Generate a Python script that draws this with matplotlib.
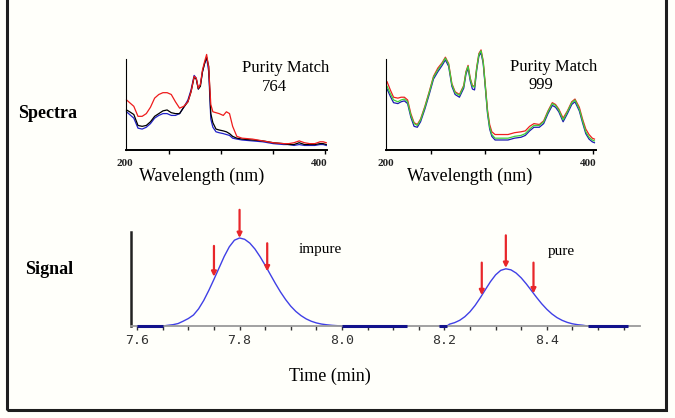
import matplotlib
matplotlib.use('Agg')
import matplotlib.pyplot as plt
from matplotlib.patches import Rectangle

# ---- spectra, left panel (impure peak, purity match 764) ----
wl_left = [209, 212, 216, 220, 224, 228, 232, 236, 240, 244, 248, 252, 256, 260,
           264, 268, 271, 274, 276, 278, 280, 282, 284, 286, 288, 290, 292, 295,
           298, 302, 305, 308, 311, 315, 320, 330, 340, 350, 360, 365, 370, 375,
           380, 385, 390, 395, 398, 401]
left_red = [.55, .52, .48, .37, .37, .40, .47, .57, .61, .63, .63, .61, .53, .46,
            .48, .53, .64, .81, .79, .68, .72, .88, .97, 1.05, .90, .50, .42, .41,
            .40, .38, .42, .40, .26, .15, .13, .12, .10, .08, .07, .07, .08, .10,
            .08, .07, .07, .09, .09, .08]
left_black = [.44, .42, .39, .27, .26, .27, .31, .37, .40, .43, .44, .41, .40, .40,
              .47, .53, .64, .80, .78, .67, .70, .86, .95, 1.02, .92, .40, .30, .23,
              .22, .21, .20, .18, .15, .13, .12, .11, .10, .08, .07, .06, .06, .08,
              .06, .06, .06, .07, .07, .06]
left_blue = [.42, .39, .35, .24, .23, .25, .29, .35, .38, .40, .40, .38, .38, .40,
             .47, .55, .66, .82, .79, .67, .72, .86, .95, 1.01, .86, .34, .25, .20,
             .19, .18, .17, .16, .13, .12, .11, .10, .09, .07, .06, .06, .05, .06,
             .05, .05, .05, .06, .06, .05]

# ---- spectra, right panel (pure peak, purity match 999) ----
wl_right = [209, 212, 215, 219, 222, 225, 228, 231, 234, 237, 240, 244, 248, 252,
            256, 260, 263, 266, 269, 272, 276, 280, 282, 284, 286, 288, 290, 292,
            294, 296, 298, 300, 302, 304, 306, 309, 315, 321, 327, 333, 337, 341,
            345, 350, 354, 358, 362, 365, 368, 372, 376, 380, 383, 387, 390, 393,
            396, 399, 401]
right_red = [.75, .66, .58, .57, .58, .58, .55, .40, .30, .28, .34, .48, .64, .81,
             .90, .96, 1.02, .95, .73, .64, .61, .71, .86, .93, .79, .71, .70, .91,
             1.06, 1.10, .98, .71, .44, .28, .20, .17, .17, .17, .19, .20, .21, .26,
             .29, .28, .32, .43, .52, .50, .45, .35, .43, .53, .56, .47, .34, .23,
             .17, .13, .12]
right_green = [.70, .62, .55, .53, .55, .56, .53, .38, .29, .27, .33, .47, .63, .80,
               .88, .95, 1.01, .94, .72, .63, .60, .70, .85, .92, .78, .70, .69, .90,
               1.05, 1.09, .97, .70, .42, .25, .17, .13, .13, .13, .15, .16, .18, .23,
               .27, .27, .31, .42, .51, .49, .44, .33, .42, .52, .55, .45, .32, .20,
               .14, .11, .10]
right_blue = [.67, .59, .52, .51, .53, .54, .51, .36, .26, .25, .31, .45, .61, .78,
              .86, .93, .99, .92, .70, .61, .58, .68, .83, .90, .76, .67, .66, .88,
              1.03, 1.07, .95, .68, .40, .23, .15, .11, .11, .11, .13, .14, .16, .21,
              .25, .25, .29, .40, .49, .47, .42, .31, .40, .50, .53, .43, .30, .18,
              .12, .09, .08]
wl_ticks = [250, 300, 350, 400]

# ---- chromatogram signal ----
t_impure = [7.600, 7.650, 7.66, 7.67, 7.68, 7.69, 7.70, 7.71, 7.72, 7.73, 7.74,
            7.75, 7.76, 7.77, 7.78, 7.79, 7.80, 7.81, 7.82, 7.83, 7.84, 7.85,
            7.86, 7.87, 7.88, 7.89, 7.90, 7.91, 7.92, 7.93, 7.94, 7.95, 7.96,
            7.97, 7.98, 7.99, 8.00, 8.127]
h_impure = [0, 0, 0.8, 1.5, 2.8, 5.5, 8.5, 12.5, 19.5, 29, 40.5, 53, 66, 79, 90,
            97.5, 100, 98.5, 94.2, 87.5, 78.8, 69, 58.6, 48.3, 38.6, 30, 22.5,
            16.5, 11.8, 8.1, 5.4, 3.5, 2.2, 1.4, 0.8, 0.4, 0, 0]
t_pure = [8.190, 8.205, 8.21, 8.22, 8.23, 8.24, 8.25, 8.26, 8.27, 8.28, 8.29,
          8.30, 8.31, 8.32, 8.33, 8.34, 8.35, 8.36, 8.37, 8.38, 8.39, 8.40,
          8.41, 8.42, 8.43, 8.44, 8.45, 8.46, 8.47, 8.48, 8.559]
h_pure = [0, 0, 2.1, 3.8, 6.5, 10.6, 16.2, 23.4, 32.0, 41.3, 50.4, 58.1, 63.2,
          65, 63.8, 60.2, 54.7, 47.8, 40.2, 32.5, 25.3, 19.0, 13.7, 9.5, 6.4,
          4.1, 2.5, 1.5, 0.9, 0, 0]

# arrows where spectra were taken: (time, arrow top, arrow tip)
arrows_impure = [(7.750, 91, 56), (7.800, 132, 100), (7.854, 94, 62)]
arrows_pure = [(8.273, 72, 35), (8.320, 103, 66), (8.374, 72, 37)]

time_ticks = [7.6, 7.8, 8.0, 8.2, 8.4]
time_labels = ['7.6', '7.8', '8.0', '8.2', '8.4']
time_minor = [7.6 + 0.05 * i for i in range(20)]

W, H = 675, 418
BG = '#fffffa'
SERIF = 'Liberation Serif'


def fx(px):
    return px / W


def fy(py):
    return 1 - py / H


def spectra_panel(left, right, wl, curves, colors, lab200_x, lab400_x):
    ax = fig.add_axes([fx(left), fy(150), fx(right) - fx(left), 91 / H])
    ax.set_facecolor('none')
    for vals, c in zip(curves, colors):
        ax.plot(wl, vals, color=c, lw=0.9, clip_on=False)
    ax.set_xlim(208, 402)
    ax.set_ylim(0, 1)
    for s in ['top', 'right']:
        ax.spines[s].set_visible(False)
    ax.spines['left'].set_linewidth(0.8)
    ax.spines['bottom'].set_linewidth(1.4)
    ax.set_yticks([])
    ax.set_xticks(wl_ticks)
    ax.set_xticklabels([])
    ax.tick_params(axis='x', direction='out', length=3, width=1)
    fig.text(fx(lab200_x), fy(163), '200', family=SERIF, fontsize=8,
             fontweight='bold', ha='center', va='center', color='#222')
    fig.text(fx(lab400_x), fy(163), '400', family=SERIF, fontsize=8,
             fontweight='bold', ha='center', va='center', color='#222')
    return ax


fig = plt.figure(figsize=(6.75, 4.18), dpi=100, facecolor=BG)

spectra_panel(125.5, 327.3, wl_left, [left_blue, left_black, left_red],
              ['#2020c8', '#000000', '#ee1c1c'], 125, 319)
spectra_panel(386, 595.5, wl_right, [right_blue, right_red, right_green],
              ['#1a1ab0', '#ee2020', '#3ccf3c'], 386, 588)

fig.text(fx(202), fy(176), 'Wavelength (nm)', family=SERIF, fontsize=13,
         ha='center', va='center')
fig.text(fx(470), fy(176), 'Wavelength (nm)', family=SERIF, fontsize=13,
         ha='center', va='center')
fig.text(fx(286), fy(68), 'Purity Match', family=SERIF, fontsize=12,
         ha='center', va='center')
fig.text(fx(274), fy(87), '764', family=SERIF, fontsize=12,
         ha='center', va='center')
fig.text(fx(554), fy(67), 'Purity Match', family=SERIF, fontsize=12,
         ha='center', va='center')
fig.text(fx(541), fy(85), '999', family=SERIF, fontsize=12,
         ha='center', va='center')

fig.text(fx(48), fy(113), 'Spectra', family=SERIF, fontsize=13,
         fontweight='bold', ha='center', va='center')
fig.text(fx(49), fy(269), 'Signal', family=SERIF, fontsize=13,
         fontweight='bold', ha='center', va='center')

# chromatogram
ax3 = fig.add_axes([fx(131), fy(326), fx(640) - fx(131), 94 / H])
ax3.set_facecolor('none')
for t, h in [(t_impure, h_impure), (t_pure, h_pure)]:
    ax3.plot(t, h, color='#4040e6', lw=1.0, clip_on=False)
    for i in range(len(t) - 1):
        if h[i] == 0 and h[i + 1] == 0:
            ax3.plot(t[i:i + 2], [0, 0], color='#12128c', lw=2.2,
                     solid_capstyle='butt', clip_on=False, zorder=3)

for t0, top, tip in arrows_impure + arrows_pure:
    ax3.annotate('', xy=(t0, tip), xytext=(t0, top), annotation_clip=False,
                 arrowprops=dict(arrowstyle='-|>', color='#e8262a', lw=1.6,
                                 mutation_scale=7, shrinkA=0, shrinkB=0))

ax3.set_xlim(7.588, 8.582)
ax3.set_ylim(0, 106.8)
for s in ['top', 'right']:
    ax3.spines[s].set_visible(False)
ax3.spines['left'].set_linewidth(1.8)
ax3.spines['left'].set_color('#222222')
ax3.spines['bottom'].set_linewidth(1.3)
ax3.spines['bottom'].set_color('#9a9a9a')
ax3.set_yticks([])
ax3.set_xticks(time_ticks)
ax3.set_xticklabels(time_labels, family='DejaVu Sans Mono', fontsize=9.5,
                    color='#333333')
ax3.set_xticks(time_minor, minor=True)
ax3.tick_params(axis='x', which='both', direction='out', length=3, width=1,
                color='#333333', pad=2.5)

fig.text(fx(320), fy(250), 'impure', family=SERIF, fontsize=11,
         ha='center', va='center')
fig.text(fx(561), fy(252), 'pure', family=SERIF, fontsize=11,
         ha='center', va='center')
fig.text(fx(330), fy(376), 'Time (min)', family=SERIF, fontsize=13,
         ha='center', va='center')

# slide frame
fig.patches.append(Rectangle((fx(7), fy(410)), fx(666) - fx(7), 1.2,
                             transform=fig.transFigure, fill=False,
                             lw=2.2, ec='#1e1e1e', clip_on=False))

fig.savefig('out.png', dpi=100, facecolor=BG)
